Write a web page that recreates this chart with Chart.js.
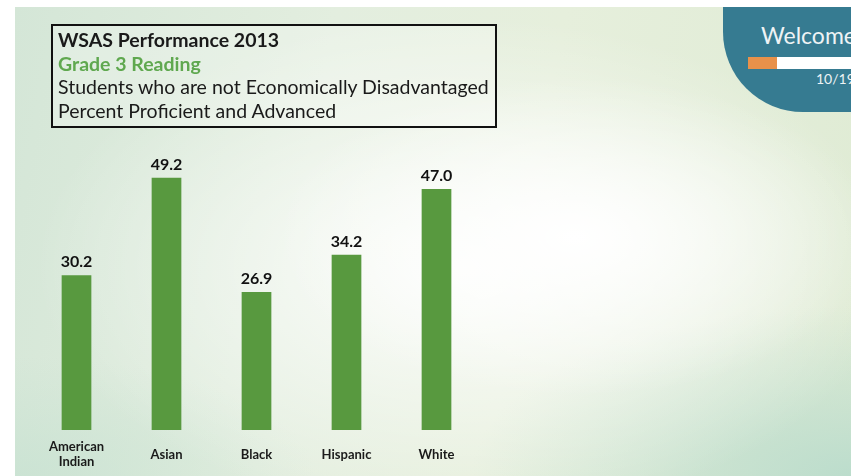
<!DOCTYPE html>
<html>
<head>
<meta charset="utf-8">
<script src="https://cdn.jsdelivr.net/npm/chart.js@4"></script>
<style>
  html, body { margin: 0; padding: 0; }
  body { width: 851px; height: 476px; overflow: hidden; background: #fff; position: relative; font-family: Lato, 'Open Sans', sans-serif; }
  #slide {
    position: absolute; left: 15px; top: 7px; width: 836px; height: 469px; overflow: hidden;
    background:
      radial-gradient(ellipse 300px 160px at 560px 230px, rgba(255,255,255,1), rgba(255,255,255,0) 100%),
      radial-gradient(ellipse 430px 250px at 450px 260px, rgba(255,255,255,0.9), rgba(255,255,255,0) 100%),
      radial-gradient(ellipse 380px 170px at 836px 469px, rgba(186,220,204,0.95), rgba(186,220,204,0) 100%),
      radial-gradient(ellipse 300px 120px at 0px 469px, rgba(200,226,210,0.8), rgba(200,226,210,0) 100%),
      linear-gradient(100deg, #d4e6d7 0%, #e3eedf 35%, #e6efdc 60%, #dfebd4 100%);
  }
  #chartWrap { position: absolute; left: 0; top: 0; width: 851px; height: 476px; }
  #titleBox {
    position: absolute; left: 51px; top: 24px; width: 442px; height: 100px;
    border: 2px solid #111; background: rgba(255,255,255,0.25);
  }
  #titleBox div { position: absolute; left: 5px; white-space: nowrap; font-size: 19.5px; color: #1a1a1a; }
  #welcome {
    position: absolute; left: 723px; top: 7px; width: 200px; height: 105px;
    background: #367b91; border-bottom-left-radius: 80px;
  }
  #welcome .w { position: absolute; left: 38px; top: 14px; font-size: 23px; color: #eef3f5; }
  #welcome .bar { position: absolute; left: 25px; top: 50px; width: 180px; height: 12px; background: #fff; }
  #welcome .bar span { position: absolute; left: 0; top: 0; width: 29px; height: 12px; background: #e8914a; }
  #welcome .d { position: absolute; left: 93px; top: 63px; font-size: 14px; color: #eef3f5; }
</style>
</head>
<body>
<div id="slide"></div>
<div id="chartWrap"><canvas id="chart" width="851" height="476"></canvas></div>
<div id="titleBox">
  <div style="top:2px;font-weight:bold;">WSAS Performance 2013</div>
  <div style="top:26px;font-weight:bold;color:#5fa84f;">Grade 3 Reading</div>
  <div style="top:49px;">Students who are not Economically Disadvantaged</div>
  <div style="top:73px;">Percent Proficient and Advanced</div>
</div>
<div id="welcome">
  <div class="w">Welcome</div>
  <div class="bar"><span></span></div>
  <div class="d">10/19</div>
</div>
<script>
const groups = [['American', 'Indian'], 'Asian', 'Black', 'Hispanic', 'White'];
const percentProficient = [30.2, 49.2, 26.9, 34.2, 47.0];

const barColor = '#58993f';

// draws the value above each bar
const valueLabels = {
    id: 'valueLabels',
    afterDatasetsDraw(chart) {
        const ctx = chart.ctx;
        const meta = chart.getDatasetMeta(0);
        ctx.save();
        ctx.font = 'bold 16px Lato';
        ctx.fillStyle = '#111';
        ctx.textAlign = 'center';
        ctx.textBaseline = 'alphabetic';
        meta.data.forEach((bar, i) => {
            ctx.fillText(percentProficient[i].toFixed(1), bar.x, bar.y - 8);
        });
        ctx.restore();
    }
};

const ctx = document.getElementById('chart').getContext('2d');
new Chart(ctx, {
    type: 'bar',
    data: {
        labels: groups,
        datasets: [{
            data: percentProficient,
            backgroundColor: barColor,
            categoryPercentage: 1,
            barPercentage: 0.33
        }]
    },
    options: {
        responsive: false,
        animation: false,
        layout: { padding: { left: 31.5, right: 369.5, top: 148, bottom: 6 } },
        plugins: { legend: { display: false }, tooltip: { enabled: false } },
        scales: {
            y: { display: false, min: 0, max: 55 },
            x: {
                grid: { display: false },
                border: { display: false },
                ticks: {
                    color: '#1a1a1a',
                    font: { family: 'Lato', weight: 'bold', size: 13, lineHeight: 1.15 },
                    padding: 9,
                    crossAlign: 'center',
                    maxRotation: 0
                },
                afterFit(scale) { scale.height = 40; }
            }
        }
    },
    plugins: [valueLabels]
});
</script>
</body>
</html>
